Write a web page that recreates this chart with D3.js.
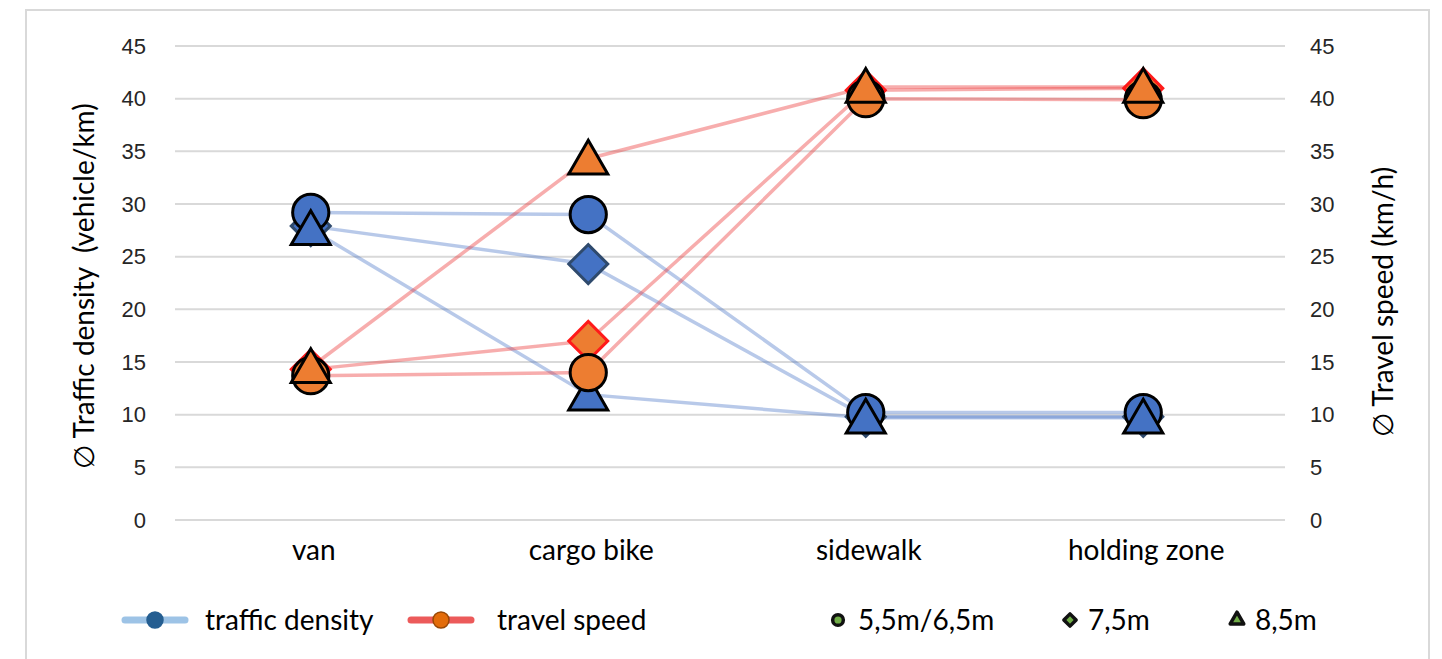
<!DOCTYPE html>
<html>
<head>
<meta charset="utf-8">
<script src="https://cdn.jsdelivr.net/npm/d3@7"></script>
<style>
  body { margin: 0; background: #fff; }
  text { font-family: "Liberation Sans", Arial, sans-serif; fill: #262626; }
  .cal { font-family: Lato, "Open Sans", sans-serif; fill: #000; white-space: pre; }
</style>
</head>
<body>
<div id="chart"></div>
<script>
// Values
var categories = ["van", "cargo bike", "sidewalk", "holding zone"];
var densityCircle   = [29.2, 29.0, 10.2, 10.2];
var densityDiamond  = [27.9, 24.3, 9.8, 9.8];
var densityTriangle = [27.6, 11.9, 9.7, 9.7];
var speedCircle     = [13.7, 14.0, 40.0, 39.9];
var speedDiamond    = [14.3, 17.0, 40.8, 41.0];
var speedTriangle   = [14.5, 34.3, 41.1, 41.1];
var yTicks = [0, 5, 10, 15, 20, 25, 30, 35, 40, 45];

var W = 1442, H = 659;
var margin = {top: 46, left: 175, right: 157, bottom: 139};
var width = W - margin.left - margin.right,
    height = H - margin.top - margin.bottom;

var svg = d3.select("#chart").append("svg")
    .attr("width", W)
    .attr("height", H);

// outer frame
svg.append("rect")
    .attr("x", 26).attr("y", 10)
    .attr("width", 1403).attr("height", 670)
    .attr("fill", "none")
    .attr("stroke", "#d9d9d9")
    .attr("stroke-width", 2);

var g = svg.append("g")
    .attr("transform", "translate(" + margin.left + "," + margin.top + ")");

var x = d3.scaleBand().domain(categories).range([0, width]);
var yL = d3.scaleLinear().domain([0, 45]).range([height, 0]);
var yR = d3.scaleLinear().domain([0, 45]).range([height, 0]);

// gridlines
g.selectAll(".grid")
    .data(yTicks)
    .enter().append("line")
    .attr("x1", 0).attr("x2", width)
    .attr("y1", function(d) { return yL(d); })
    .attr("y2", function(d) { return yL(d); })
    .attr("stroke", "#d9d9d9")
    .attr("stroke-width", 2);

// left axis
var axL = g.append("g").call(d3.axisLeft(yL).tickValues(yTicks).tickSize(0).tickPadding(29));
axL.select(".domain").remove();
axL.selectAll("text").style("font-size", "22px").attr("fill", "#262626")
    .style("font-family", "'Liberation Sans', Arial, sans-serif");

// right axis
var axR = g.append("g").attr("transform", "translate(" + width + ",0)")
    .call(d3.axisRight(yR).tickValues(yTicks).tickSize(0).tickPadding(25));
axR.select(".domain").remove();
axR.selectAll("text").style("font-size", "22px").attr("fill", "#262626")
    .style("font-family", "'Liberation Sans', Arial, sans-serif");

// category axis
var axX = g.append("g").attr("transform", "translate(0," + height + ")")
    .call(d3.axisBottom(x).tickSize(0).tickPadding(20));
axX.select(".domain").remove();
axX.selectAll("text").attr("class", "cal").style("font-size", "28px").attr("fill", "#000")
    .style("font-family", "Lato, 'Open Sans', sans-serif");

// axis titles
svg.append("text").attr("class", "cal")
    .attr("transform", "translate(94," + (margin.top + yL(22.2)) + ") rotate(-90)")
    .attr("text-anchor", "middle")
    .style("font-size", "28px")
    .text("\u2205 Traffic density  (vehicle/km)");

svg.append("text").attr("class", "cal")
    .attr("transform", "translate(1393," + (margin.top + yR(20.7)) + ") rotate(-90)")
    .attr("text-anchor", "middle")
    .style("font-size", "28px")
    .text("\u2205 Travel speed (km/h)");

var series = [
    {values: densityDiamond,  scale: yL, shape: "diamond",  fill: "#4472c4", stroke: "#2f4a6d", line: "rgba(68,114,196,0.38)"},
    {values: densityCircle,   scale: yL, shape: "circle",   fill: "#4472c4", stroke: "#000",    line: "rgba(68,114,196,0.38)"},
    {values: densityTriangle, scale: yL, shape: "triangle", fill: "#4472c4", stroke: "#000",    line: "rgba(68,114,196,0.38)"},
    {values: speedDiamond,    scale: yR, shape: "diamond",  fill: "#ed7d31", stroke: "#ff1a1a", line: "rgba(235,60,60,0.42)"},
    {values: speedCircle,     scale: yR, shape: "circle",   fill: "#ed7d31", stroke: "#000",    line: "rgba(235,60,60,0.42)"},
    {values: speedTriangle,   scale: yR, shape: "triangle", fill: "#ed7d31", stroke: "#000",    line: "rgba(235,60,60,0.42)"}
];

function cx(i) { return x(categories[i]) + x.bandwidth() / 2 - 3; }

var line = d3.line();

// lines first
series.forEach(function(s) {
    g.append("path")
        .attr("d", line(s.values.map(function(v, i) { return [cx(i), s.scale(v)]; })))
        .attr("fill", "none")
        .attr("stroke", s.line)
        .attr("stroke-width", 3.5);
});

var symbolType = {circle: d3.symbolCircle, diamond: d3.symbolSquare, triangle: d3.symbolTriangle};
var symbolSize = {circle: 1030, diamond: 760, triangle: 660};

series.forEach(function(s) {
    g.selectAll(null)
        .data(s.values)
        .enter().append("path")
        .attr("d", d3.symbol().type(symbolType[s.shape]).size(symbolSize[s.shape]))
        .attr("transform", function(d, i) {
            var t = "translate(" + cx(i) + "," + s.scale(d) + ")";
            if (s.shape === "diamond") t += " rotate(45)";
            if (s.shape === "triangle") t += " translate(0,4)";
            return t;
        })
        .attr("fill", s.fill)
        .attr("stroke", s.stroke)
        .attr("stroke-width", 3)
        .attr("stroke-linejoin", "miter");
});

// legend: series
var legY = 620;
var legendLines = [
    {label: "traffic density", x: 122, tx: 205, line: "#9dc3e6", dot: "#255e91", dotStroke: "#255e91"},
    {label: "travel speed", x: 408, tx: 497, line: "#ec5a5a", dot: "#e36c0a", dotStroke: "#984807"}
];
legendLines.forEach(function(l) {
    svg.append("line")
        .attr("x1", l.x + 3).attr("x2", l.x + 63)
        .attr("y1", legY).attr("y2", legY)
        .attr("stroke", l.line).attr("stroke-width", 7)
        .attr("stroke-linecap", "round");
    svg.append("circle")
        .attr("cx", l.x + 33).attr("cy", legY).attr("r", 8)
        .attr("fill", l.dot).attr("stroke", l.dotStroke).attr("stroke-width", 1.5);
    svg.append("text").attr("class", "cal")
        .attr("x", l.tx).attr("y", legY + 10)
        .style("font-size", "28px")
        .text(l.label);
});

// legend: lane widths
var legendShapes = [
    {label: "5,5m/6,5m", x: 838, tx: 858, shape: "circle", size: 90},
    {label: "7,5m", x: 1070, tx: 1088, shape: "diamond", size: 75},
    {label: "8,5m", x: 1237, tx: 1255, shape: "triangle", size: 80}
];
legendShapes.forEach(function(l) {
    svg.append("path")
        .attr("d", d3.symbol().type(symbolType[l.shape]).size(l.size))
        .attr("transform", "translate(" + l.x + "," + legY + ")" + (l.shape === "diamond" ? " rotate(45)" : ""))
        .attr("fill", "#70ad47")
        .attr("stroke", "#111")
        .attr("stroke-width", 3.5)
        .attr("stroke-linejoin", "round");
    svg.append("text").attr("class", "cal")
        .attr("x", l.tx).attr("y", legY + 10)
        .style("font-size", "28px")
        .text(l.label);
});
</script>
</body>
</html>
